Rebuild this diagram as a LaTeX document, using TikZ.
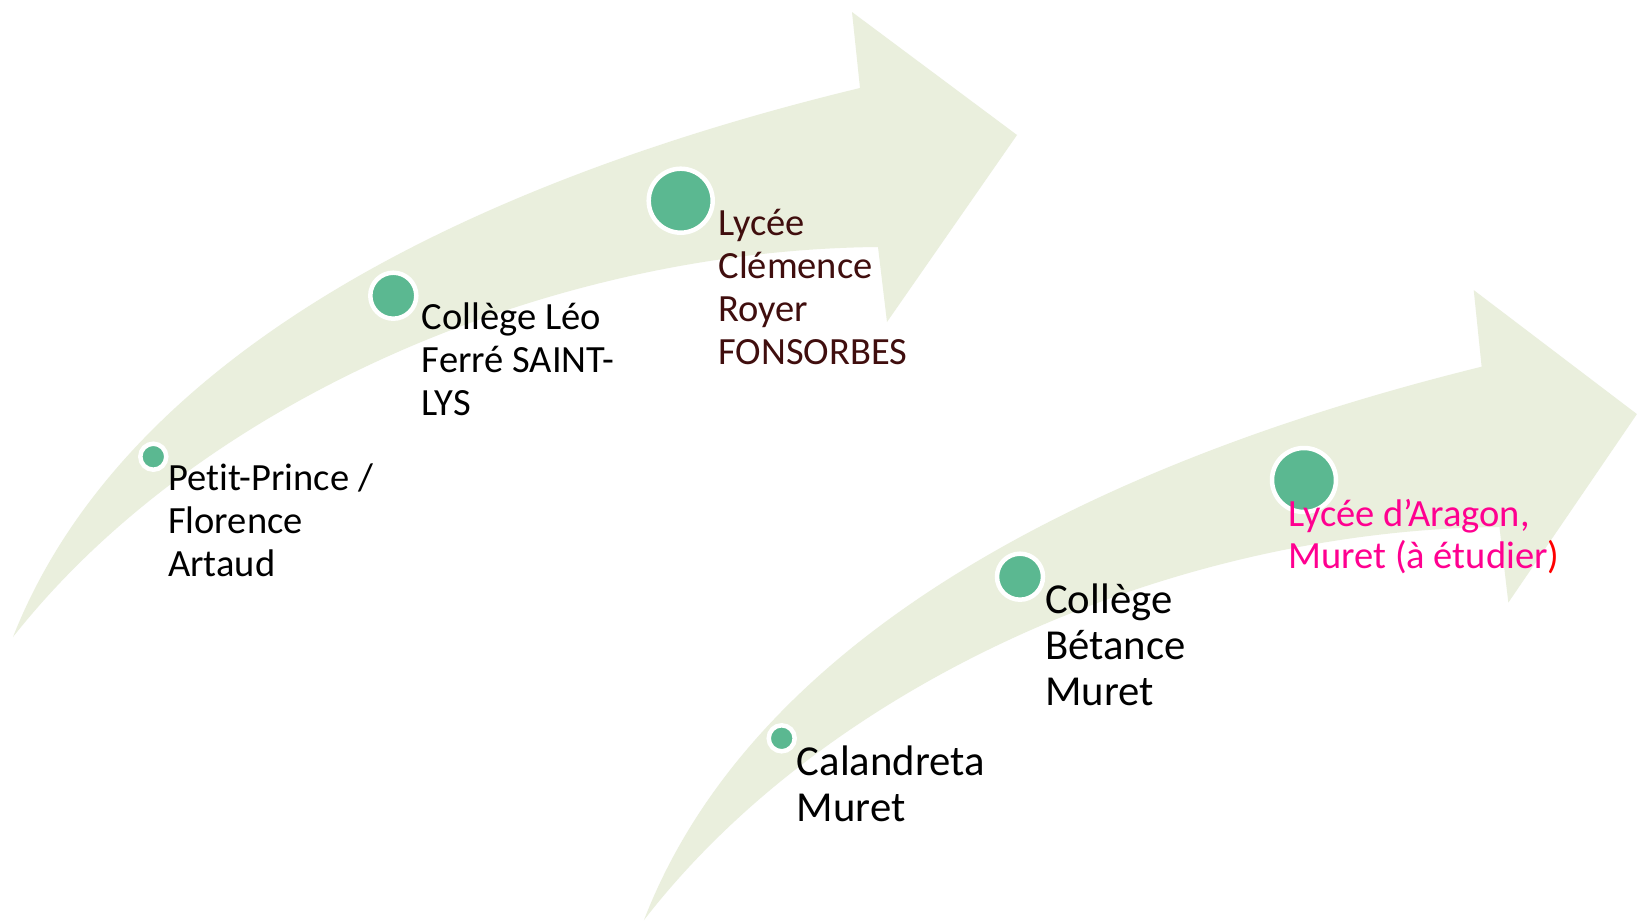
\documentclass[tikz,border=0pt]{standalone}
\usepackage{fontspec}
\setmainfont[Ligatures={NoCommon}]{Carlito}
\definecolor{arrowfill}{RGB}{234,239,221}
\definecolor{dotgreen}{RGB}{91,184,145}
\definecolor{lyceebrown}{RGB}{64,14,14}
\definecolor{pinktext}{RGB}{255,0,144}
\tikzset{
  bigarrow/.style={fill=arrowfill, draw=none},
  dotnode/.style={circle, fill=dotgreen, draw=white, line width=4.5pt, inner sep=0pt, outer sep=0pt},
  smalldot/.style={dotnode, minimum size=26pt},
  middot/.style={dotnode, minimum size=46pt},
  bigdot/.style={dotnode, minimum size=64pt},
  labelA/.style={anchor=base west, inner sep=0pt, font=\fontsize{38.5}{43}\selectfont},
  labelB/.style={anchor=base west, inner sep=0pt, font=\fontsize{42.7}{46.3}\selectfont},
  labelC/.style={anchor=base west, inner sep=0pt, font=\fontsize{38.5}{42}\selectfont, text=pinktext},
}
\newcommand\curvedarrowpath{(13,637) .. controls (130,340) and (500,175) .. (860,88) -- (852,12) -- (1017,135) -- (887,322) -- (878,247) .. controls (550,250) and (200,400) .. (13,637) -- cycle}
\begin{document}
\begin{tikzpicture}[x=1pt, y=-1pt]
  \fill[white] (0,0) rectangle (1642,921);
  \useasboundingbox (0,0) rectangle (1642,921);
  % first arrow
  \fill[bigarrow] \curvedarrowpath;
  % second arrow
  \begin{scope}[shift={(631.1,278)}, xscale=0.989, yscale=1.008]
    \fill[bigarrow] \curvedarrowpath;
  \end{scope}
  % dots of the first arrow
  \node[smalldot] (d1) at (153.3,456.7) {};
  \node[middot]   (d2) at (393.3,295.7) {};
  \node[bigdot]   (d3) at (680.7,200.7) {};
  % dots of the second arrow
  \node[smalldot] (e1) at (781.7,738.3) {};
  \node[middot]   (e2) at (1020,576.7) {};
  \node[bigdot]   (e3) at (1304,480) {};
  % labels of the first arrow
  \node[labelA] (t1) at (168,490) {\vtop{\hbox{Petit-Prince /}\hbox{Florence}\hbox{Artaud}}};
  \node[labelA] (t2) at (421.7,329) {\vtop{\hbox{Collège Léo}\hbox{Ferré SAINT-}\hbox{LYS}}};
  \node[labelA, text=lyceebrown] (t3) at (718.3,235) {\vtop{\hbox{Lycée}\hbox{Clémence}\hbox{Royer}\hbox{FONSORBES}}};
  % labels of the second arrow
  \node[labelB] (u1) at (796.7,775) {\vtop{\hbox{Calandreta}\hbox{Muret}}};
  \node[labelB] (u2) at (1045,613) {\vtop{\hbox{Collège}\hbox{Bétance}\hbox{Muret}}};
  \node[labelC] (u3) at (1288.3,526) {\vtop{\hbox{Lycée d’Aragon,}\hbox{Muret (à étudier{\color{red})}}}};
\end{tikzpicture}
\end{document}
